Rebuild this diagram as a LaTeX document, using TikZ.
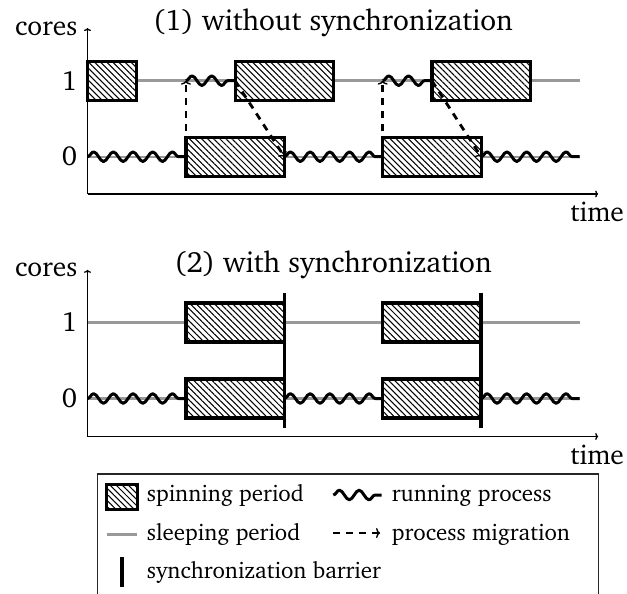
\documentclass[tikz,border=0pt]{standalone}
\IfFileExists{charter.sty}{\usepackage[T1]{fontenc}\usepackage{charter}}{}
\usetikzlibrary{patterns.meta,decorations.pathmorphing,arrows.meta}

\tikzset{
  spin/.style={preaction={fill=white},
    pattern={Lines[angle=-45,distance=4.3pt,line width=1.05pt]},
    draw=black, line width=3.2pt},
  sleep/.style={draw=black!40, line width=2.4pt},
  run/.style={draw=black, line width=3pt, line join=round, decorate,
    decoration={snake, segment length=19.68pt, amplitude=4.8pt}},
  mig/.style={draw=black, line width=2.8pt, dash pattern=on 7pt off 6pt,
    -{To[length=4pt,width=10pt,line width=1.4pt]}},
  barrier/.style={draw=black, line width=3.6pt},
  axis/.style={draw=black, line width=1.3pt, -{To[length=3pt,width=7pt]}},
  lbl/.style={font=\fontsize{27.5}{32}\selectfont, inner sep=0pt},
  ttl/.style={font=\fontsize{29.3}{35}\selectfont, inner sep=0pt},
  leg/.style={font=\fontsize{23}{28}\selectfont, inner sep=0pt, anchor=base west},
  legframe/.style={draw=black!85, line width=1.4pt}
}

\begin{document}
\begin{tikzpicture}[x=1pt,y=1pt]
\useasboundingbox (0,0) rectangle (627,-594);

% ---------- (1) without synchronization ----------
\begin{scope}[shift={(87.5pt,-156.7pt)}, x=49.2pt, y=76pt]
  \foreach \r in {0,1} \foreach \t in {0,...,10} \coordinate (a\r-\t) at (\t,\r);
  \coordinate (a-o) at (0,-0.491);
  \coordinate (a-x) at (10.38,-0.491);
  \coordinate (a-y) at (0,1.693);
  \draw[axis] (a-o) -- (a-x);
  \draw[axis] (a-o) -- (a-y);
  \node[lbl, anchor=base east] (a-cores) at ([xshift=-10pt,yshift=-7pt]a-y) {cores};
  \node[lbl, anchor=base east] (a-time) at ([xshift=26pt,yshift=-27.7pt]a-x) {time};
  \node[lbl, anchor=east] (a-one) at ([xshift=-10.2pt]a1-0) {1};
  \node[lbl, anchor=east] (a-zero) at ([xshift=-10.2pt]a0-0) {0};
  \node[ttl, anchor=base] (a-title) at (4.99,1.654) {(1) without synchronization};
  % sleeping cores
  \draw[sleep] (a1-0) -- (a1-10);
  \draw[sleep] (a0-0) -- (a0-10);
  % running process
  \draw[run] (a0-0) -- (a0-2);
  \draw[run] (a0-4) -- (a0-6);
  \draw[run] (a0-8) -- (a0-10);
  \draw[run] (a1-2) -- (a1-3);
  \draw[run] (a1-6) -- (a1-7);
  % spinning periods
  \draw[spin] ([yshift=-19.5pt]a1-0) rectangle ([yshift=19.5pt]a1-1);
  \draw[spin] ([yshift=-19.5pt]a1-3) rectangle ([yshift=19.5pt]a1-5);
  \draw[spin] ([yshift=-19.5pt]a1-7) rectangle ([yshift=19.5pt]a1-9);
  \draw[spin] ([yshift=-19.5pt]a0-2) rectangle ([yshift=19.5pt]a0-4);
  \draw[spin] ([yshift=-19.5pt]a0-6) rectangle ([yshift=19.5pt]a0-8);
  % migrations
  \draw[mig] (a0-2) -- (a1-2);
  \draw[mig] (a1-3) -- (a0-4);
  \draw[mig] (a0-6) -- (a1-6);
  \draw[mig] (a1-7) -- (a0-8);
\end{scope}

% ---------- (2) with synchronization ----------
\begin{scope}[shift={(87.5pt,-398.5pt)}, x=49.2pt, y=76pt]
  \foreach \r in {0,1} \foreach \t in {0,...,10} \coordinate (b\r-\t) at (\t,\r);
  \coordinate (b-o) at (0,-0.5);
  \coordinate (b-x) at (10.38,-0.5);
  \coordinate (b-y) at (0,1.693);
  \draw[axis] (b-o) -- (b-x);
  \draw[axis] (b-o) -- (b-y);
  \node[lbl, anchor=base east] (b-cores) at ([xshift=-10pt,yshift=-7pt]b-y) {cores};
  \node[lbl, anchor=base east] (b-time) at ([xshift=26pt,yshift=-27.7pt]b-x) {time};
  \node[lbl, anchor=east] (b-one) at ([xshift=-10.2pt]b1-0) {1};
  \node[lbl, anchor=east] (b-zero) at ([xshift=-10.2pt]b0-0) {0};
  \node[ttl, anchor=base] (b-title) at (4.99,1.654) {(2) with synchronization};
  \draw[sleep] (b1-0) -- (b1-10);
  \draw[sleep] (b0-0) -- (b0-10);
  \draw[run] (b0-0) -- (b0-2);
  \draw[run] (b0-4) -- (b0-6);
  \draw[run] (b0-8) -- (b0-10);
  \draw[spin] ([yshift=-19.5pt]b1-2) rectangle ([yshift=19.5pt]b1-4);
  \draw[spin] ([yshift=-19.5pt]b1-6) rectangle ([yshift=19.5pt]b1-8);
  \draw[spin] ([yshift=-19.5pt]b0-2) rectangle ([yshift=19.5pt]b0-4);
  \draw[spin] ([yshift=-19.5pt]b0-6) rectangle ([yshift=19.5pt]b0-8);
  % synchronization barriers
  \draw[barrier] ([yshift=-29.8pt]b0-4) -- ([yshift=29.2pt]b1-4);
  \draw[barrier] ([yshift=-29.8pt]b0-8) -- ([yshift=29.2pt]b1-8);
\end{scope}

% ---------- legend ----------
\draw[legframe] (97.3,-474) rectangle (598.3,-640);
\node[leg] (l-spin) at (146.7,-501.7) {spinning period};
\draw[spin, line width=2.8pt] ([xshift=-40pt,yshift=-7.6pt]l-spin.base west) rectangle ([xshift=-9.4pt,yshift=17.4pt]l-spin.base west);
\node[leg] (l-run) at (391.7,-501.7) {running process};
\draw[run] ([xshift=-58.4pt,yshift=6.7pt]l-run.base west) -- ([xshift=-10pt,yshift=6.7pt]l-run.base west);
\node[leg] (l-sleep) at (146.7,-540) {sleeping period};
\draw[sleep] ([xshift=-39.4pt,yshift=5.7pt]l-sleep.base west) -- ([xshift=-10pt,yshift=5.7pt]l-sleep.base west);
\node[leg] (l-mig) at (391.7,-540) {process migration};
\draw[mig] ([xshift=-58.7pt,yshift=7pt]l-mig.base west) -- ([xshift=-11.7pt,yshift=7pt]l-mig.base west);
\node[leg] (l-bar) at (146.7,-578) {synchronization barrier};
\draw[barrier] ([xshift=-25pt,yshift=-8.7pt]l-bar.base west) -- ([xshift=-25pt,yshift=21.3pt]l-bar.base west);
\end{tikzpicture}
\end{document}
